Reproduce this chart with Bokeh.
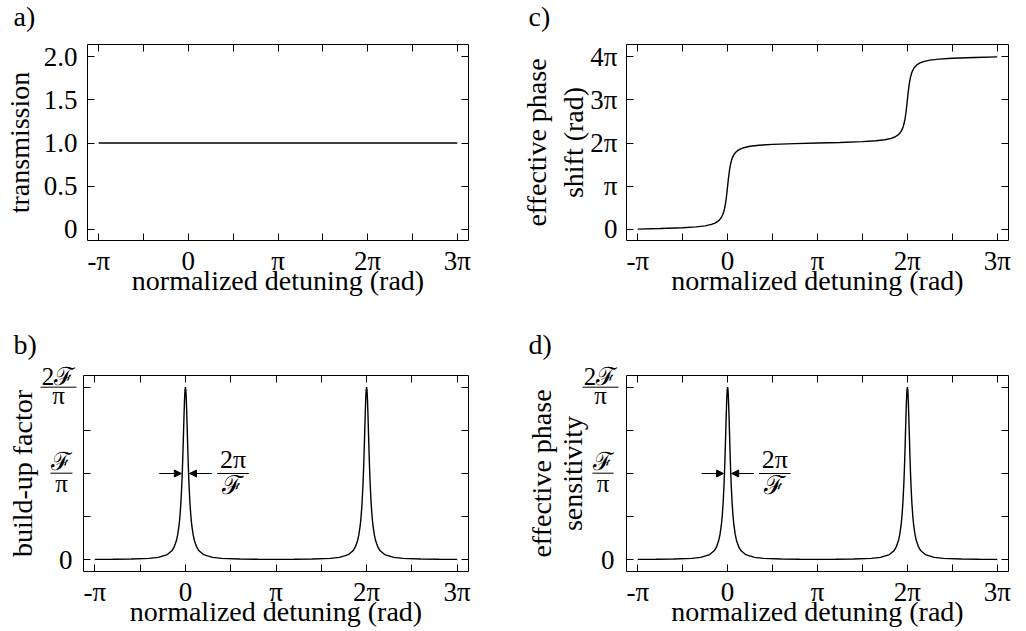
import math
from bokeh.plotting import figure
from bokeh.models import FixedTicker, LinearAxis, Label, Arrow, NormalHead, Range1d, Spacer
from bokeh.layouts import column, row
from bokeh.embed import file_html
from bokeh.resources import INLINE

FONT = "Liberation Serif"

# ---------------- data (detuning in units of pi) ----------------
det_a = [-1.0, 0.0, 1.0, 2.0, 3.0]
transmission = [1.0, 1.0, 1.0, 1.0, 1.0]

det_c = [-1.0, -0.75, -0.5, -0.35, -0.25, -0.18, -0.14, -0.11, -0.09, -0.07, -0.055, -0.045,
         -0.035, -0.025, -0.015, -0.007, 0.0, 0.007, 0.015, 0.025, 0.035, 0.045, 0.055, 0.07,
         0.09, 0.11, 0.14, 0.18, 0.25, 0.35, 0.5, 0.75, 1.0, 1.25, 1.5, 1.65, 1.75, 1.82, 1.86,
         1.89, 1.91, 1.93, 1.945, 1.955, 1.965, 1.975, 1.985, 1.993, 2.0, 2.007, 2.015, 2.025,
         2.035, 2.045, 2.055, 2.07, 2.09, 2.11, 2.14, 2.18, 2.25, 2.35, 2.5, 2.75, 3.0]
# effective phase shift, in units of pi
phase_c = [0.0, 0.013, 0.032, 0.052, 0.076, 0.109, 0.140, 0.178, 0.215, 0.270, 0.333, 0.391,
           0.470, 0.576, 0.720, 0.862, 1.0, 1.138, 1.280, 1.424, 1.530, 1.609, 1.667, 1.730,
           1.785, 1.822, 1.860, 1.891, 1.924, 1.948, 1.968, 1.987, 2.0, 2.013, 2.032, 2.052,
           2.076, 2.109, 2.140, 2.178, 2.215, 2.270, 2.333, 2.391, 2.470, 2.576, 2.720, 2.862,
           3.0, 3.138, 3.280, 3.424, 3.530, 3.609, 3.667, 3.730, 3.785, 3.822, 3.860, 3.891,
           3.924, 3.948, 3.968, 3.987, 4.0]

det_b = [-1.0, -0.8, -0.6, -0.4, -0.3, -0.2, -0.15, -0.125, -0.1, -0.085, -0.07, -0.06, -0.05,
         -0.04, -0.035, -0.03, -0.025, -0.02, -0.015, -0.01, -0.005, 0.0, 0.005, 0.01, 0.015,
         0.02, 0.025, 0.03, 0.035, 0.04, 0.05, 0.06, 0.07, 0.085, 0.1, 0.125, 0.15, 0.2, 0.3,
         0.4, 0.6, 0.8, 1.0, 1.2, 1.4, 1.6, 1.7, 1.8, 1.85, 1.875, 1.9, 1.915, 1.93, 1.94, 1.95,
         1.96, 1.965, 1.97, 1.975, 1.98, 1.985, 1.99, 1.995, 2.0, 2.005, 2.01, 2.015, 2.02,
         2.025, 2.03, 2.035, 2.04, 2.05, 2.06, 2.07, 2.085, 2.1, 2.125, 2.15, 2.2, 2.3, 2.4,
         2.6, 2.8, 3.0]
# build-up factor, in units of F/pi
buildup_b = [0.006, 0.007, 0.009, 0.017, 0.029, 0.061, 0.105, 0.147, 0.220, 0.291, 0.401,
             0.509, 0.658, 0.867, 1.000, 1.153, 1.324, 1.508, 1.689, 1.849, 1.960, 2.000,
             1.960, 1.849, 1.689, 1.508, 1.324, 1.153, 1.000, 0.867, 0.658, 0.509, 0.401,
             0.291, 0.220, 0.147, 0.105, 0.061, 0.029, 0.017, 0.009, 0.007, 0.006,
             0.007, 0.009, 0.017, 0.029, 0.061, 0.105, 0.147, 0.220, 0.291, 0.401, 0.509,
             0.658, 0.867, 1.000, 1.153, 1.324, 1.508, 1.689, 1.849, 1.960, 2.000,
             1.960, 1.849, 1.689, 1.508, 1.324, 1.153, 1.000, 0.867, 0.658, 0.509, 0.401,
             0.291, 0.220, 0.147, 0.105, 0.061, 0.029, 0.017, 0.009, 0.007, 0.006]

det_d = list(det_b)
# effective phase sensitivity, in units of F/pi
sensitivity_d = list(buildup_b)

x_ticks = [-1, 0, 1, 2, 3]
x_minor = [-0.5, 0.5, 1.5, 2.5]
x_tick_labels = ["-π", "0", "π", "2π", "3π"]
a_y_ticks = [0, 0.5, 1, 1.5, 2]
a_y_labels = ["0", "0.5", "1.0", "1.5", "2.0"]
c_y_ticks = [0, 1, 2, 3, 4]
c_y_labels = ["0", "π", "2π", "3π", "4π"]
bd_y_ticks = [0, 0.5, 1, 1.5, 2]
fwhm_half = 0.045          # arrow tips (units of pi)

# ---------------- geometry ----------------
XR = (-1.125, 3.125)
YR_A = (-0.132, 2.144)
YR_C = (-0.264, 4.288)
YR_BD = (-0.135, 2.135)
TICK_FS = "27px"
LABEL_FS = "28px"
FRAC_FS = "25px"
INFRAC_FS = "26px"
MID = 0.336   # distance from text-box middle to baseline, in em


def style_axis(ax):
    ax.major_tick_in = 7
    ax.major_tick_out = 0
    ax.minor_tick_in = 7
    ax.minor_tick_out = 0
    ax.axis_line_color = None
    ax.major_tick_line_color = "black"
    ax.minor_tick_line_color = "black"
    ax.major_label_text_font = FONT
    ax.major_label_text_font_size = TICK_FS
    ax.major_label_text_color = "black"
    ax.axis_label_text_font = FONT
    ax.axis_label_text_font_size = LABEL_FS
    ax.axis_label_text_font_style = "normal"
    ax.axis_label_text_color = "black"


def hide_labels(ax, ticks):
    ax.major_label_text_font_size = "0px"
    ax.major_label_overrides = {t_: "" for t_ in ticks}
    ax.major_label_standoff = 0


def make_panel(width, height, mb, yr, y_ticks, y_labels=None, y_title=None,
               y_label_standoff=10, y_title_standoff=0):
    l, r, t, b = mb
    p = figure(width=width, height=height, x_range=Range1d(*XR), y_range=Range1d(*yr),
               output_backend="svg", toolbar_location=None, tools="", title=None,
               min_border_left=l, min_border_right=r, min_border_top=t, min_border_bottom=b)
    p.grid.visible = False
    p.outline_line_color = "black"
    p.outline_line_width = 1
    p.background_fill_color = "white"
    p.border_fill_color = "white"

    xa = p.xaxis[0]
    style_axis(xa)
    xa.ticker = FixedTicker(ticks=x_ticks, minor_ticks=x_minor)
    xa.major_label_overrides = dict(zip(x_ticks, x_tick_labels))
    xa.major_label_standoff = 5
    xa.axis_label = "normalized detuning (rad)"
    xa.axis_label_standoff = -14

    ya = p.yaxis[0]
    style_axis(ya)
    ya.ticker = FixedTicker(ticks=y_ticks, minor_ticks=[])
    if y_labels is None:
        hide_labels(ya, y_ticks)
    else:
        ya.major_label_overrides = dict(zip(y_ticks, y_labels))
        ya.major_label_standoff = y_label_standoff
    if y_title is not None:
        ya.axis_label = y_title
        ya.axis_label_standoff = y_title_standoff

    for loc, ticks, minor in (("above", x_ticks, x_minor), ("right", y_ticks, [])):
        ax = LinearAxis(ticker=FixedTicker(ticks=ticks, minor_ticks=minor))
        style_axis(ax)
        hide_labels(ax, ticks)
        p.add_layout(ax, loc)
    return p


def make_gutter(x0, x1, y0, y1):
    """Blank figure whose frame fills its canvas; data units = page pixels."""
    p = figure(width=x1 - x0, height=y1 - y0, x_range=Range1d(x0, x1), y_range=Range1d(y1, y0),
               output_backend="svg", toolbar_location=None, tools="", title=None,
               x_axis_location=None, y_axis_location=None,
               min_border_left=0, min_border_right=0, min_border_top=0, min_border_bottom=0)
    p.grid.visible = False
    p.outline_line_color = None
    p.background_fill_color = "white"
    p.border_fill_color = "white"
    return p


def px(size):
    return float(size.replace("px", ""))


def text(p, x, y, s, size=LABEL_FS, align="left", angle=0.0):
    """Place text whose alphabetic baseline lies at page pixel y (or x when rotated)."""
    shift = MID * px(size)
    if angle:
        x = x - shift
    else:
        y = y - shift
    p.add_layout(Label(x=x, y=y, text=s, text_font=FONT, text_font_size=size,
                       text_color="black", text_align=align, text_baseline="middle",
                       angle=angle))


def bar(p, xa, xb, y):
    p.add_layout(Arrow(start=None, end=None, x_start=xa, y_start=y, x_end=xb, y_end=y,
                       line_color="black", line_width=1))


def frac_ticks(p, top_c, top_bar, mid_c, mid_bar, zero_right):
    # 2F/pi at the top tick
    bar(p, top_bar[0], top_bar[1], 386.7)
    text(p, top_c, 384.5, "2ℱ", size=FRAC_FS, align="center")
    text(p, top_c, 403, "π", size=FRAC_FS, align="center")
    # F/pi at the middle tick
    bar(p, mid_bar[0], mid_bar[1], 472.7)
    text(p, mid_c, 469.5, "ℱ", size=FRAC_FS, align="center")
    text(p, mid_c, 491, "π", size=FRAC_FS, align="center")
    # 0
    p.add_layout(Label(x=zero_right, y=559, text="0", text_font=FONT, text_font_size=TICK_FS,
                       text_color="black", text_align="right", text_baseline="middle"))


def add_fwhm(p):
    for xs, xe in ((-0.289, -fwhm_half), (0.292, fwhm_half)):
        p.add_layout(Arrow(end=NormalHead(size=7, fill_color="black", line_color="black", line_width=1),
                           x_start=xs, y_start=1.0, x_end=xe, y_end=1.0,
                           line_color="black", line_width=1))
    bar(p, 0.35, 0.70, 1.0)
    for s, yy in (("2π", 1.159), ("ℱ", 0.858)):
        p.add_layout(Label(x=0.525, y=yy, text=s, text_font=FONT, text_font_size=INFRAC_FS,
                           text_color="black", text_align="center", text_baseline="middle"))


LW = 1.4
HALF = math.pi / 2

# top strip with panel letters a) and c)
strip = make_gutter(0, 1025, 0, 36)
text(strip, 13, 25, "a)")
text(strip, 528, 25, "c)")

# row 1 (frames 44..240)
pa = make_panel(485, 294, (83, 17, 8, 90), YR_A, a_y_ticks, a_y_labels, "transmission", 10, 6)
pa.line(det_a, transmission, line_color="black", line_width=LW)

pc = make_panel(540, 294, (141, 17, 8, 90), YR_C, c_y_ticks, c_y_labels,
                "effective phase\nshift (rad)", 9, -2)
pc.line(det_c, phase_c, line_color="black", line_width=LW)

# row 2 (frames 375..571); gutters hold the texts left of the frames
gb = make_gutter(0, 78, 330, 629)
text(gb, 13, 353, "b)")
text(gb, 31, 473, "build-up factor", align="center", angle=HALF)
frac_ticks(gb, 58, (40, 76), 61, (50, 72), 72)

pb = make_panel(407, 255, (5, 17, 0, 59), YR_BD, bd_y_ticks)
pb.line(det_b, buildup_b, line_color="black", line_width=LW)
add_fwhm(pb)

gd = make_gutter(485, 621, 330, 629)
text(gd, 528, 353, "d)")
text(gd, 550, 473, "effective phase", align="center", angle=HALF)
text(gd, 581, 473, "sensitivity", align="center", angle=HALF)
frac_ticks(gd, 600, (582, 618), 602.5, (592, 613), 614)

pd = make_panel(404, 255, (5, 17, 0, 59), YR_BD, bd_y_ticks)
pd.line(det_d, sensitivity_d, line_color="black", line_width=LW)
add_fwhm(pd)

layout = column(strip,
                row(pa, pc),
                row(gb, column(Spacer(width=407, height=45), pb),
                    gd, column(Spacer(width=404, height=45), pd)))
open("out.html", "w").write(file_html(layout, INLINE))
